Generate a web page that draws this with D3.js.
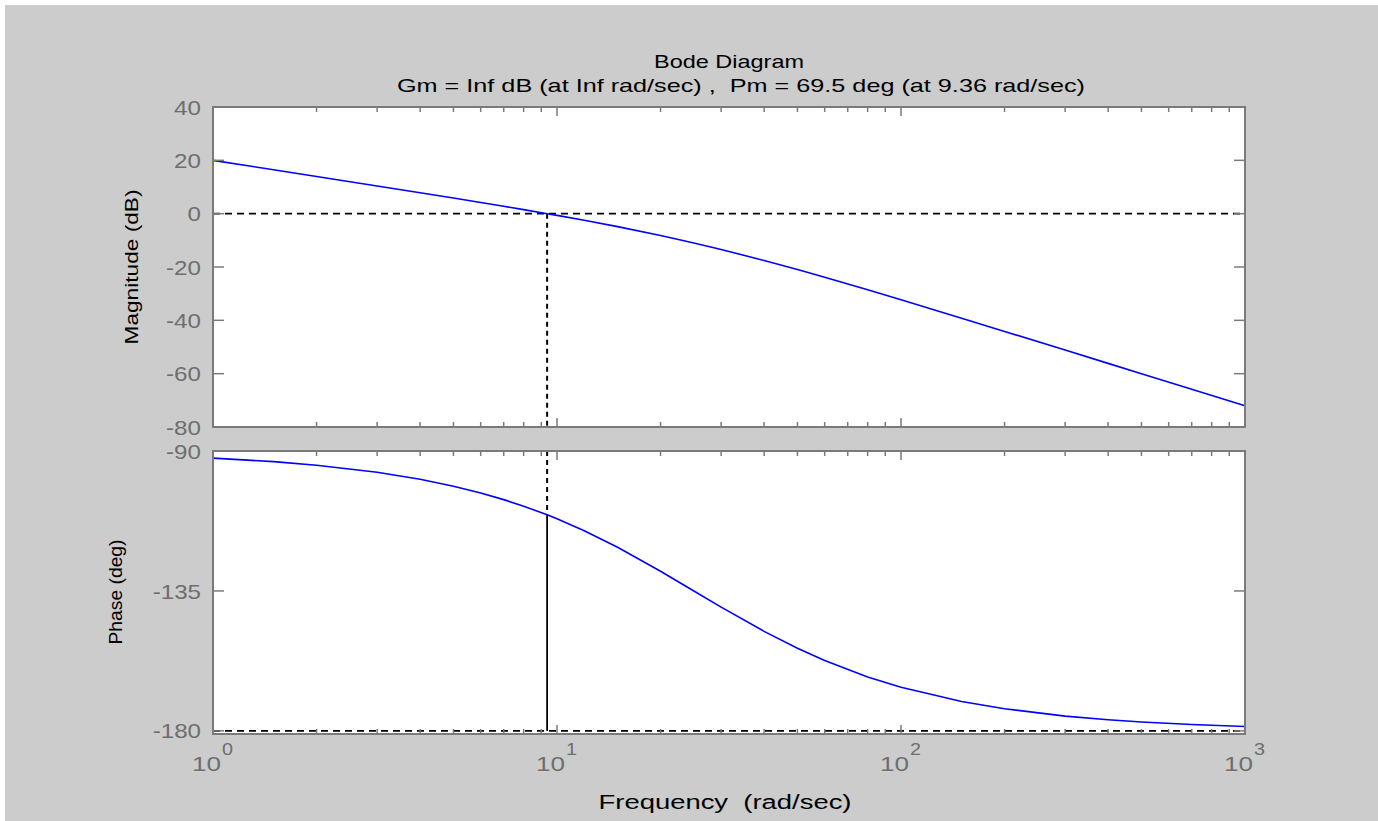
<!DOCTYPE html>
<html><head><meta charset="utf-8">
<script src="https://cdn.jsdelivr.net/npm/d3@7"></script>
<style>body{margin:0;background:#fff}svg{display:block}text{white-space:pre}</style>
</head><body>
<svg id="c" width="1378" height="821"></svg>
<script>
// Data
const freq =   [1, 1.5, 2, 3, 4, 5, 6, 7, 8, 9.36, 10, 12, 15, 20, 25, 30, 40, 50, 60, 80, 100, 150, 200, 300, 400, 500, 700, 1000];
const magDb =  [19.99, 16.46, 13.95, 10.40, 7.85, 5.85, 4.20, 2.77, 1.51, 0.0, -0.65, -2.48, -4.86, -8.17, -10.97, -13.42, -17.56, -20.97, -23.86, -28.57, -32.30, -39.20, -44.15, -51.15, -56.14, -60.01, -65.85, -72.04];
const phaseDeg=[-92.29, -93.43, -94.57, -96.84, -99.09, -101.31, -103.50, -105.64, -107.74, -110.53, -111.80, -115.64, -120.96, -128.66, -135.0, -140.19, -147.99, -153.43, -157.38, -162.65, -165.96, -170.54, -172.87, -175.24, -176.42, -177.14, -177.95, -178.57];
const magTicks = [40, 20, 0, -20, -40, -60, -80];
const phaseTicks = [-90, -135, -180];
const decades = [0, 1, 2, 3];
const pmFreq = 9.36, pmPhase = -110.53;
const titleLines = ["Bode Diagram", "Gm = Inf dB (at Inf rad/sec) ,  Pm = 69.5 deg (at 9.36 rad/sec)"];

const svg = d3.select("#c");
const FONT = "Liberation Sans, Arial, sans-serif";
const axisGray = "#7a7a7a";
const tickTextColor = "#6e6e6e";
svg.append("rect").attr("x",5).attr("y",5).attr("width",1373).attr("height",816).attr("fill","#cccccc");

// widen text horizontally (reference glyphs are wide)
function widen(sel, k){
  sel.each(function(){
    const w = this.getComputedTextLength();
    d3.select(this).attr("textLength", w*k).attr("lengthAdjust","spacingAndGlyphs");
  });
}
function fixLen(sel, len){
  sel.attr("textLength", len).attr("lengthAdjust","spacingAndGlyphs");
}

const L = 213, R = 1245;
const x = d3.scaleLog().domain([1,1000]).range([L,R]);
const yM = d3.scaleLinear().domain([-80,40]).range([427,107]);
const yP = d3.scaleLinear().domain([-181,-90]).range([734,451]);

const minor = [];
for (let d=0; d<3; d++) for (let k=2;k<=9;k++) minor.push(k*Math.pow(10,d));
const major = decades.map(d=>Math.pow(10,d));

function panel(top, bot){
  const g = svg.append("g");
  g.append("rect").attr("x",L).attr("y",top).attr("width",R-L).attr("height",bot-top).attr("fill","#fff");
  return g;
}
function frame(g, y, ticks, top, bot){
  const t = g.append("g").attr("stroke",axisGray).attr("stroke-width",1.5);
  minor.forEach(v=>{
    t.append("line").attr("x1",x(v)).attr("x2",x(v)).attr("y1",top).attr("y2",top+5);
    t.append("line").attr("x1",x(v)).attr("x2",x(v)).attr("y1",bot).attr("y2",bot-5);
  });
  major.forEach(v=>{
    t.append("line").attr("x1",x(v)).attr("x2",x(v)).attr("y1",top).attr("y2",top+9);
    t.append("line").attr("x1",x(v)).attr("x2",x(v)).attr("y1",bot).attr("y2",bot-9);
  });
  ticks.forEach(v=>{
    t.append("line").attr("x1",L).attr("x2",L+11).attr("y1",y(v)).attr("y2",y(v));
    t.append("line").attr("x1",R).attr("x2",R-11).attr("y1",y(v)).attr("y2",y(v));
  });
  g.append("rect").attr("x",L).attr("y",top).attr("width",R-L).attr("height",bot-top)
    .attr("fill","none").attr("stroke",axisGray).attr("stroke-width",2);
  const lab = g.selectAll("text.yt").data(ticks).join("text").attr("class","yt")
    .attr("x",L-12).attr("y",d=>y(d)).attr("dy","0.36em").attr("text-anchor","end")
    .attr("font-family",FONT).attr("font-size",21).attr("fill",tickTextColor).text(d=>d);
  widen(lab, 1.15);
}

const line = (yy, vals)=> d3.line().x((d,i)=>x(freq[i])).y((d,i)=>yy(vals[i]));

// Magnitude panel
const gM = panel(107, 427);
gM.append("line").attr("x1",L).attr("x2",R).attr("y1",yM(0)).attr("y2",yM(0))
  .attr("stroke","#000").attr("stroke-width",1.8).attr("stroke-dasharray","7,5");
gM.append("line").attr("x1",x(pmFreq)).attr("x2",x(pmFreq)).attr("y1",yM(0)).attr("y2",427)
  .attr("stroke","#000").attr("stroke-width",2).attr("stroke-dasharray","5,4");
gM.append("path").datum(magDb).attr("d",line(yM,magDb)).attr("fill","none").attr("stroke","#0000ff").attr("stroke-width",1.6);
frame(gM, yM, magTicks, 107, 427);

// Phase panel
const gP = panel(451, 734);
gP.append("line").attr("x1",L).attr("x2",R).attr("y1",yP(-180)).attr("y2",yP(-180))
  .attr("stroke","#000").attr("stroke-width",1.8).attr("stroke-dasharray","7,5");
gP.append("line").attr("x1",x(pmFreq)).attr("x2",x(pmFreq)).attr("y1",451).attr("y2",yP(pmPhase))
  .attr("stroke","#000").attr("stroke-width",2).attr("stroke-dasharray","5,4");
gP.append("line").attr("x1",x(pmFreq)).attr("x2",x(pmFreq)).attr("y1",yP(pmPhase)).attr("y2",yP(-180))
  .attr("stroke","#000").attr("stroke-width",1.8);
gP.append("path").datum(phaseDeg).attr("d",line(yP,phaseDeg)).attr("fill","none").attr("stroke","#0000ff").attr("stroke-width",1.6);
frame(gP, yP, phaseTicks, 451, 734);

// x tick labels 10^n
decades.forEach(d=>{
  const xv = x(Math.pow(10,d));
  const b = svg.append("text").attr("x",xv+8).attr("y",771).attr("text-anchor","end")
    .attr("font-family",FONT).attr("font-size",21).attr("fill",tickTextColor).text("10");
  fixLen(b, 29);
  const e = svg.append("text").attr("x",xv+9).attr("y",755)
    .attr("font-family",FONT).attr("font-size",16).attr("fill",tickTextColor).text(String(d));
  fixLen(e, 11);
});

// titles & labels
const titleLens = [150, 688];
titleLines.forEach((s,i)=>{
  const t = svg.append("text").attr("x",(L+R)/2 + (i===1?12:0)).attr("y",68+i*24).attr("text-anchor","middle")
    .attr("font-family",FONT).attr("font-size",19).attr("fill","#000").text(s);
  fixLen(t, titleLens[i]);
});
fixLen(svg.append("text").attr("x",725).attr("y",809).attr("text-anchor","middle")
  .attr("font-family",FONT).attr("font-size",20).attr("fill","#000").text("Frequency  (rad/sec)"), 253);
fixLen(svg.append("text").attr("transform","translate(138,267) rotate(-90)").attr("text-anchor","middle")
  .attr("font-family",FONT).attr("font-size",19).attr("fill","#000").text("Magnitude (dB)"), 155);
fixLen(svg.append("text").attr("transform","translate(122,592) rotate(-90)").attr("text-anchor","middle")
  .attr("font-family",FONT).attr("font-size",19).attr("fill","#000").text("Phase (deg)"), 105);
</script>
</body></html>
